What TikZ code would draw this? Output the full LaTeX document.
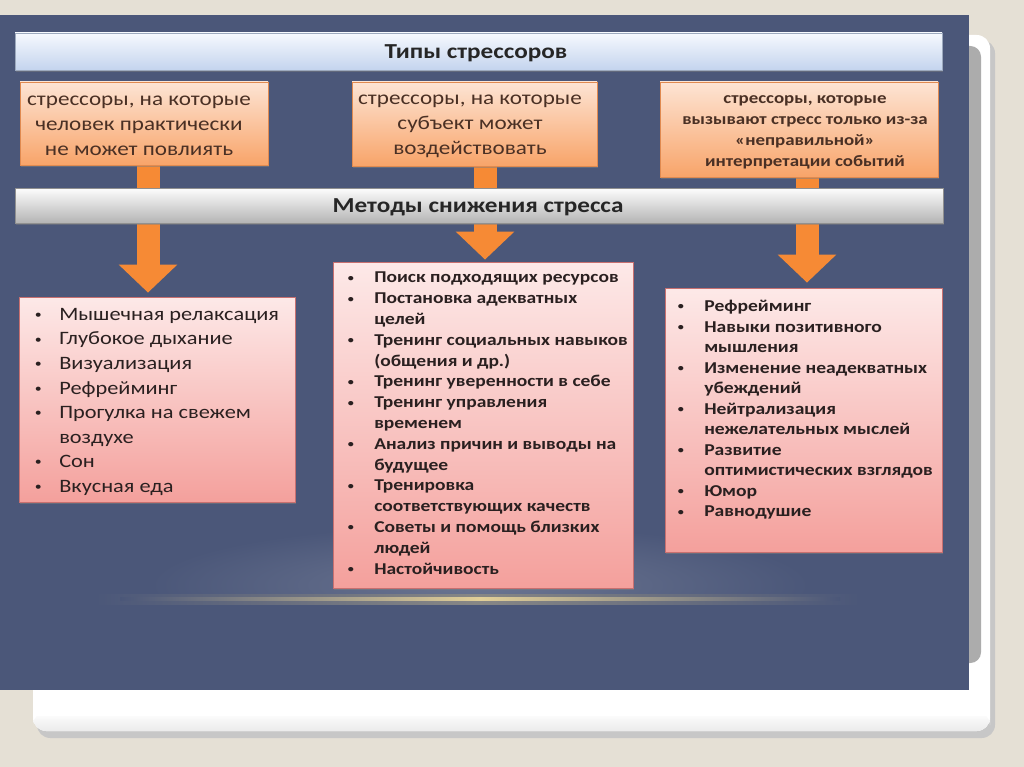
\documentclass[tikz,border=0pt]{standalone}
\usepackage{fontspec}
\usepackage{graphicx}
\setmainfont{Carlito}[FakeStretch=1.18]
\usetikzlibrary{arrows.meta,shadows}
\definecolor{bgbeige}{HTML}{E5E0D5}
\definecolor{panel}{HTML}{4B5779}
\definecolor{glowc}{HTML}{E2CF98}
\definecolor{arrowc}{HTML}{F68A35}
\definecolor{tbtop}{HTML}{F6F9FE}
\definecolor{tbbot}{HTML}{C4D4EE}
\definecolor{ortop}{HTML}{FDE4D4}
\definecolor{orbot}{HTML}{F8A469}
\definecolor{orline}{HTML}{E08A50}
\definecolor{grtop}{HTML}{FDFDFD}
\definecolor{grbot}{HTML}{B4B4B4}
\definecolor{pktop}{HTML}{FDE9E8}
\definecolor{pkbot}{HTML}{F4A09C}
\definecolor{pkline}{HTML}{C87070}
\definecolor{boxtext}{HTML}{4A3024}
\definecolor{listtext}{HTML}{2A2020}
\pgfdeclarelayer{bg}
\pgfsetlayers{bg,main}
\newcommand\bul{\raisebox{0.1em}{\scalebox{0.62}{\textbullet}}}
\newcommand\bi[1]{\makebox[20.25pt][l]{\hspace*{0.5pt}\bul}#1}
\newcommand\ci[1]{\hspace*{20.25pt}#1}
\newcommand\biA[1]{\makebox[18.75pt][l]{\hspace*{0.5pt}\bul}#1}
\newcommand\ciA[1]{\hspace*{18.75pt}#1}
\tikzset{
  bar/.style={draw=#1, line width=0.5pt, drop shadow={opacity=0.45, shadow xshift=0.8pt, shadow yshift=-1.5pt}},
  titlebar/.style={bar=tbbot!80!black, top color=tbtop, bottom color=tbbot},
  methodbar/.style={bar=grbot!80!black, top color=grtop, bottom color=grbot},
  bartext/.style={inner sep=0pt, text=black!85},
  orbox/.style={draw=orline, line width=0.5pt, top color=ortop, bottom color=orbot, drop shadow={opacity=0.5, shadow xshift=0.8pt, shadow yshift=-1.5pt}},
  pkbox/.style={draw=pkline, line width=0.6pt, top color=pktop, bottom color=pkbot, drop shadow={opacity=0.5, shadow xshift=0.8pt, shadow yshift=-1.5pt}},
  otext/.style={align=center, inner sep=0pt, text=boxtext},
  ltext/.style={align=left, inner sep=0pt, text=listtext, anchor=north west},
  stemarrow/.style={draw=arrowc, line width=17.25pt, -{Triangle[width=42.75pt, length=21pt]}, arrowc}
}
\begin{document}
\begin{tikzpicture}[x=0.75pt,y=-0.75pt]
\useasboundingbox (0,0) rectangle (1024,767);
\begin{pgfonlayer}{bg}
\fill[bgbeige] (0,0) rectangle (1024,767);
\fill[black!22, rounded corners=10pt] (37,40) rectangle (995,738);
\fill[white, rounded corners=10pt] (33,35) rectangle (990,731);
\shade[top color=white, bottom color=black!8, rounded corners=10pt] (33,712) rectangle (990,731);
\fill[white] (33,700) rectangle (990,716);
\fill[gray!65, rounded corners=8pt] (955,46) rectangle (981,663);
\fill[panel] (0,15) rectangle (969,690);
\shade[inner color=panel!82!white, outer color=panel] (480,585) ellipse [x radius=330, y radius=60];
\fill[panel] (0,601) rectangle (969,690);
\shade[left color=panel, right color=panel, middle color=panel!60!glowc] (95,594) rectangle (860,604);
\shade[left color=panel, right color=panel, middle color=glowc] (120,597.5) rectangle (840,600.5);
\end{pgfonlayer}

% bars
\node[titlebar, minimum width=695.25pt, minimum height=27.75pt] (types) at (478.5,51.5) {};
\node[bartext, font=\bfseries\fontsize{16}{18}\selectfont] (typest) at (476,53) {Типы стрессоров};
\node[methodbar, minimum width=696pt, minimum height=26.25pt] (methods) at (479,205.5) {};
\node[bartext, font=\bfseries\fontsize{16}{18}\selectfont] (methodst) at (478,207) {Методы снижения стресса};

% orange boxes
\node[orbox, minimum width=186pt, minimum height=62.25pt] (o1) at (144,123.5) {};
\node[otext, font=\fontsize{14.7}{18.75}\selectfont] (o1t) at (139,126) {стрессоры, на которые\\человек практически\\не может повлиять};
\node[orbox, minimum width=183.75pt, minimum height=63pt] (o2) at (474.5,124) {};
\node[otext, font=\fontsize{14.7}{18.75}\selectfont] (o2t) at (470,126) {стрессоры, на которые\\субъект может\\воздействовать};
\node[orbox, minimum width=208.5pt, minimum height=71.25pt] (o3) at (799,129.5) {};
\node[otext, font=\bfseries\fontsize{12}{15.75}\selectfont] (o3t) at (805,132) {стрессоры, которые\\вызывают стресс только из-за\\«неправильной»\\интерпретации событий};

% list boxes
\node[pkbox, minimum width=207pt, minimum height=153.75pt] (l1) at (157,399.5) {};
\node[ltext, font=\fontsize{14.2}{18.4}\selectfont] (l1t) at (34,308) {\biA{Мышечная релаксация}\\\biA{Глубокое дыхание}\\\biA{Визуализация}\\\biA{Рефрейминг}\\\biA{Прогулка на свежем}\\\ciA{воздухе}\\\biA{Сон}\\\biA{Вкусная еда}};
\node[pkbox, minimum width=225pt, minimum height=244.5pt] (l2) at (483,425) {};
\node[ltext, font=\bfseries\fontsize{12.4}{15.6}\selectfont] (l2t) at (347,272) {\bi{Поиск подходящих ресурсов}\\\bi{Постановка адекватных}\\\ci{целей}\\\bi{Тренинг социальных навыков}\\\ci{(общения и др.)}\\\bi{Тренинг уверенности в себе}\\\bi{Тренинг управления}\\\ci{временем}\\\bi{Анализ причин и выводы на}\\\ci{будущее}\\\bi{Тренировка}\\\ci{соответствующих качеств}\\\bi{Советы и помощь близких}\\\ci{людей}\\\bi{Настойчивость}};
\node[pkbox, minimum width=207.75pt, minimum height=198pt] (l3) at (803.5,420) {};
\node[ltext, font=\bfseries\fontsize{12.45}{15.4}\selectfont] (l3t) at (677,300) {\bi{Рефрейминг}\\\bi{Навыки позитивного}\\\ci{мышления}\\\bi{Изменение неадекватных}\\\ci{убеждений}\\\bi{Нейтрализация}\\\ci{нежелательных мыслей}\\\bi{Развитие}\\\ci{оптимистических взглядов}\\\bi{Юмор}\\\bi{Равнодушие}};

% arrows (behind bars and boxes)
\begin{pgfonlayer}{bg}
\draw[stemarrow, shorten >=3pt] ([xshift=3pt]o1.south) -- ([xshift=3pt]o1.south |- l1.north);
\draw[stemarrow, shorten >=1.5pt] ([xshift=7.9pt]o2.south) -- ([xshift=7.9pt]o2.south |- l2.north);
\draw[stemarrow, shorten >=3.75pt] ([xshift=6pt]o3.south) -- ([xshift=6pt]o3.south |- l3.north);
\end{pgfonlayer}
\end{tikzpicture}
\end{document}
